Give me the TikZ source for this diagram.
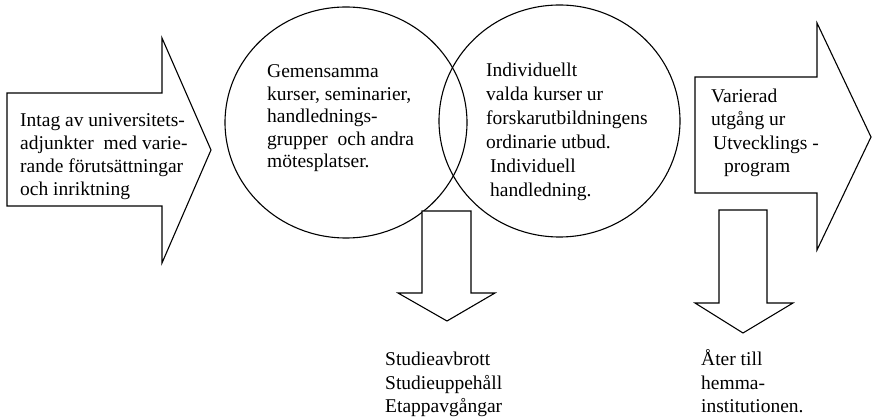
\documentclass[tikz,border=0pt]{standalone}
\usepackage{fontspec}
\setmainfont{Liberation Serif}
\begin{document}
\begin{tikzpicture}[x=1pt,y=-1pt,
  blockarrow/.style={draw,fill=white,line width=1.1pt,line join=miter},
  ring/.style={draw,line width=1.1pt},
  txt/.style={anchor=north west,inner sep=0pt,align=left,
    font=\fontsize{19.5}{23}\selectfont}]
  \useasboundingbox (0,0) rectangle (872,419);
  % the two overlapping rings
  \coordinate (L) at (346,122.5);
  \coordinate (R) at (559.5,121);
  \draw[ring] (L) ellipse [x radius=121, y radius=115.5];
  \draw[ring] (R) ellipse [x radius=120.5, y radius=116];
  % arrow in
  \draw[blockarrow] (7,93) -- (162,93) -- (162,38) -- (211,150)
    -- (162,263) -- (162,206) -- (7,206) -- cycle;
  % arrow out
  \draw[blockarrow] (695,77) -- (817,77) -- (817,23) -- (871,137)
    -- (817,250) -- (817,193) -- (695,193) -- cycle;
  % arrows down
  \draw[blockarrow] (422,211) -- (471,211) -- (471,293) -- (495,293)
    -- (447,321) -- (398,293) -- (422,293) -- cycle;
  \draw[blockarrow] (719,210) -- (767,210) -- (767,303) -- (793,303)
    -- (743,333) -- (695,303) -- (719,303) -- cycle;
  % texts
  \node[txt] (intag) at (20,110) {\strut Intag av universitets-\\
    adjunkter\ \ med varie-\\rande förutsättningar\\och inriktning};
  \node[txt,font=\fontsize{19.5}{22.5}\selectfont] (gemensam) at (267,62)
    {\strut Gemensamma\\kurser, seminarier,\\handlednings-\\
    grupper\ \ och andra\\mötesplatser.};
  \node[txt,font=\fontsize{19.5}{24}\selectfont] (individ) at (486,60)
    {\strut Individuellt\\valda kurser ur\\forskarutbildningens\\
    ordinarie utbud.\\\hspace*{4pt}Individuell\\\hspace*{4pt}handledning.};
  \node[txt,font=\fontsize{19.5}{23.3}\selectfont] (varierad) at (711,86)
    {\strut Varierad\\utgång ur\\\hspace*{2pt}Utvecklings -\\
    \hspace*{13pt}program};
  \node[txt,font=\fontsize{19.5}{23.5}\selectfont] (avbrott) at (385,349)
    {\strut Studieavbrott\\Studieuppehåll\\Etappavgångar};
  \node[txt,font=\fontsize{19.5}{23.5}\selectfont] (ater) at (701,349)
    {\strut Åter till\\hemma-\\institutionen.};
\end{tikzpicture}
\end{document}
